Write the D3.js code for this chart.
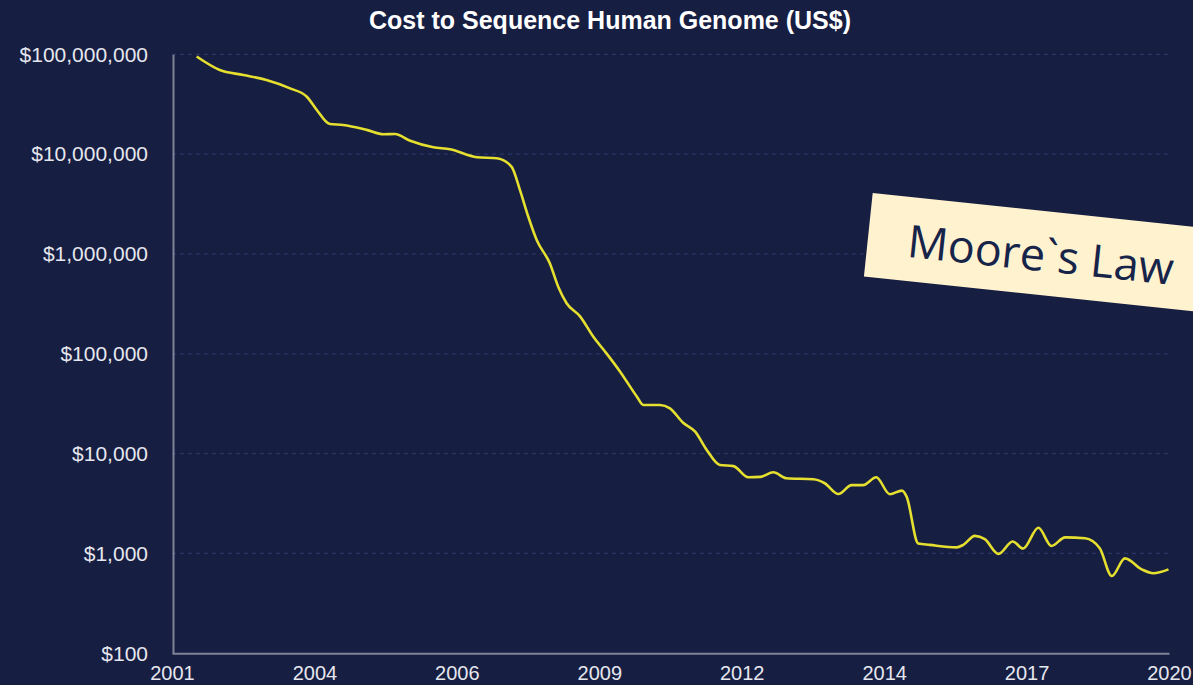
<!DOCTYPE html>
<html>
<head>
<meta charset="utf-8">
<title>Cost to Sequence Human Genome</title>
<script src="https://cdn.jsdelivr.net/npm/d3@7"></script>
<style>
	html, body { margin: 0; padding: 0; background: #161e42; overflow: hidden; }
	svg { display: block; }
</style>
</head>
<body>
<svg id="chart" width="1193" height="685"></svg>
<script>
/////////////////////////////////////////////////////////
/////////////////-----DATA-----//////////////////////////
/////////////////////////////////////////////////////////
let years = [2001.47, 2001.91, 2002.36, 2002.80, 2003.25, 2003.57, 2003.76, 2004.01, 2004.26, 2004.71,
	2005.03, 2005.25, 2005.54, 2005.98, 2006.30, 2006.81, 2007.19, 2007.47, 2007.63, 2007.79,
	2007.95, 2008.20, 2008.36, 2008.52, 2008.78, 2009.03, 2009.28, 2009.54, 2009.86, 2009.98,
	2010.30, 2010.49, 2010.74, 2010.97, 2011.19, 2011.44, 2011.70, 2011.98, 2012.21, 2012.46,
	2012.71, 2013.22, 2013.44, 2013.70, 2013.95, 2014.17, 2014.42, 2014.68, 2014.91, 2015.00,
	2015.22, 2015.44, 2015.95, 2016.08, 2016.30, 2016.49, 2016.75, 2017.02, 2017.22, 2017.51,
	2017.76, 2018.02, 2018.40, 2018.68, 2018.91, 2019.16, 2019.48, 2019.70, 2019.99];

let costs = [95000000, 69600000, 62100000, 55300000, 45600000, 37600000, 27700000, 20000000, 19600000, 17500000,
	15800000, 15900000, 13600000, 11700000, 11200000, 9300000, 9100000, 7500000, 4380000, 2360000,
	1380000, 806000, 470000, 321000, 236000, 148000, 101000, 66200, 37200, 30700,
	30700, 28400, 20400, 16600, 10900, 7700, 7500, 5800, 5850, 6500,
	5660, 5530, 5050, 3940, 4840, 4840, 5800, 3920, 4260, 3710,
	1260, 1220, 1150, 1220, 1500, 1390, 990, 1320, 1120, 1810,
	1190, 1450, 1420, 1130, 594, 893, 693, 634, 693];

let yearLabels = ["2001", "2004", "2006", "2009", "2012", "2014", "2017", "2020"];
let costTicks = [100, 1000, 10000, 100000, 1000000, 10000000, 100000000];

let title = "Cost to Sequence Human Genome (US$)";
let note = "Moore`s Law";

/////////////////////////////////////////////////////////
///////////////-----CHART-----///////////////////////////
/////////////////////////////////////////////////////////
let svg = d3.select("#chart");
let box = {left: 172, right: 1169, top: 54.3, bottom: 653.3};

let x = d3.scaleLinear().domain([2001, 2020]).range([box.left, box.right]);
let y = d3.scaleLog().domain([100, 100000000]).range([box.bottom, box.top]);

// grid lines (dashed), the $100 one is the axis
svg.append("g").selectAll("line").data(costTicks.slice(1)).enter().append("line")
	.attr("x1", box.left).attr("x2", box.right)
	.attr("y1", d => y(d)).attr("y2", d => y(d))
	.attr("stroke", "#2a3564").attr("stroke-width", 1.3)
	.attr("stroke-dasharray", "4,4");

// y axis
let yAxis = svg.append("g").attr("transform", "translate(" + (box.left + 1) + ",0)")
	.call(d3.axisLeft(y).tickValues(costTicks).tickSize(0).tickPadding(25)
		.tickFormat(d => "$" + d3.format(",")(d)));
yAxis.select(".domain").attr("stroke", "#7e8398").attr("stroke-width", 2);
yAxis.selectAll("text").attr("fill", "#e6e7ee")
	.style("font-family", "'Liberation Sans', Arial, sans-serif").style("font-size", "21px");

// x axis, labels spread evenly along the time span
let xTickValues = yearLabels.map((d, i) => 2001 + i * 19 / (yearLabels.length - 1));
let xAxis = svg.append("g").attr("transform", "translate(0," + box.bottom + ")")
	.call(d3.axisBottom(x).tickValues(xTickValues).tickSize(0).tickPadding(13)
		.tickFormat((d, i) => yearLabels[i]));
xAxis.select(".domain").attr("stroke", "#7e8398").attr("stroke-width", 2);
xAxis.selectAll("text").attr("fill", "#e6e7ee")
	.style("font-family", "'Liberation Sans', Arial, sans-serif").style("font-size", "20px");

// cost line
let points = years.map((d, i) => ({year: d, cost: costs[i]}));
let line = d3.line()
	.x(d => x(d.year))
	.y(d => y(d.cost))
	.curve(d3.curveMonotoneX);

svg.append("path").datum(points)
	.attr("d", line)
	.attr("fill", "none")
	.attr("stroke", "#e5df2f")
	.attr("stroke-width", 2.6)
	.attr("stroke-linejoin", "round");

// title
svg.append("text")
	.attr("x", 610).attr("y", 29)
	.attr("text-anchor", "middle")
	.attr("fill", "#ffffff")
	.style("font-family", "'Liberation Sans', Arial, sans-serif")
	.style("font-weight", "bold")
	.style("font-size", "25px")
	.text(title);

// sticky note
let sticky = svg.append("g").attr("transform", "translate(872.7,193) rotate(6)");
sticky.append("rect")
	.attr("x", 0).attr("y", 0)
	.attr("width", 420).attr("height", 84)
	.attr("fill", "#fff2cf");
sticky.append("text")
	.attr("x", 40).attr("y", 60)
	.attr("fill", "#17244a")
	.style("font-family", "'Open Sans', 'Noto Sans', sans-serif")
	.style("font-size", "45px")
	.text(note);
</script>
</body>
</html>
